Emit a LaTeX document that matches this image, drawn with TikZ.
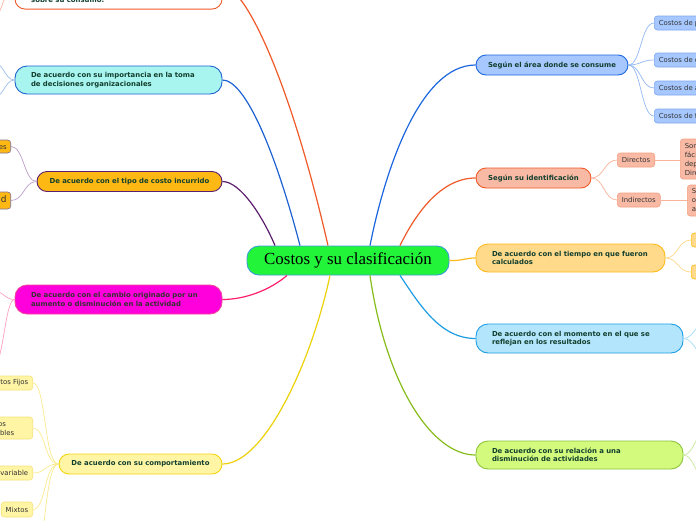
\documentclass[tikz,border=0pt]{standalone}
\usepackage{fontspec}
\newfontfamily\djv{DejaVu Sans}
\newfontfamily\lser{Liberation Serif}
\definecolor{corange}{HTML}{F05A28}
\definecolor{brtxt}{HTML}{123F2E}
\definecolor{chtxt}{HTML}{333333}
\definecolor{cgreen}{HTML}{22F43A}
\definecolor{cblue}{HTML}{3D9BD6}
\definecolor{ntwofill}{HTML}{A8F4EE}
\definecolor{ntwodraw}{HTML}{1E63D2}
\definecolor{nthrfill}{HTML}{FDB813}
\definecolor{nthrdraw}{HTML}{5C1E6E}
\definecolor{nthrline}{HTML}{BC9FCB}
\definecolor{nfourfill}{HTML}{FF00DC}
\definecolor{nfourdraw}{HTML}{F2459A}
\definecolor{nfourconn}{HTML}{FF1F6E}
\definecolor{nfourline}{HTML}{FFA0BE}
\definecolor{nfivefill}{HTML}{FFF5A5}
\definecolor{nfivedraw}{HTML}{F2D50F}
\definecolor{nfiveconn}{HTML}{EDD10A}
\definecolor{nfiveline}{HTML}{FBEB8E}
\definecolor{nfivechdraw}{HTML}{F5E27A}
\definecolor{ronefill}{HTML}{A6C8FF}
\definecolor{ronedraw}{HTML}{1C66DE}
\definecolor{roneline}{HTML}{94B8F5}
\definecolor{ronechdraw}{HTML}{7FA6EE}
\definecolor{rtwofill}{HTML}{F9BAA5}
\definecolor{rtwoline}{HTML}{F9B39B}
\definecolor{rtwochdraw}{HTML}{F5A081}
\definecolor{rthrfill}{HTML}{FFDA8B}
\definecolor{rthrdraw}{HTML}{FDBA1A}
\definecolor{rthrline}{HTML}{FDD98A}
\definecolor{rfourfill}{HTML}{B3E5FC}
\definecolor{rfourdraw}{HTML}{1E9DE3}
\definecolor{rfourline}{HTML}{A5DCF7}
\definecolor{rfivefill}{HTML}{D3FA7D}
\definecolor{rfivedraw}{HTML}{8CC43A}
\definecolor{rfiveconn}{HTML}{86BD1A}
\definecolor{rfiveline}{HTML}{C8E89A}
\definecolor{ntwoline}{HTML}{9FC0F0}
\definecolor{noneline}{HTML}{F8B8A0}
\tikzset{
  br/.style={draw, line width=0.9pt, rounded corners=10pt,
    font=\djv\bfseries\fontsize{6.9}{8.5}\selectfont, text=brtxt,
    inner ysep=0pt},
  brone/.style={br, inner xsep=5pt, align=center, minimum height=20pt},
  brtwo/.style={br, inner xsep=16pt, align=left, rounded corners=12pt},
  ch/.style={draw, line width=0.6pt, rounded corners=3pt,
    font=\djv\fontsize{6.9}{9}\selectfont, text=chtxt,
    inner xsep=4.5pt, inner ysep=0pt, minimum height=14pt},
  conn/.style={line width=1.2pt},
  sub/.style={line width=0.7pt}
}
\begin{document}
\begin{tikzpicture}[x=1pt,y=-1pt]
\useasboundingbox (0,0) rectangle (696,520);
\clip (0,0) rectangle (696,520);
\fill[white] (0,0) rectangle (696,520);

% central
\node[draw=cblue, fill=cgreen, line width=0.9pt, rounded corners=12pt,
  minimum width=202pt, minimum height=29pt, inner sep=0pt,
  font=\lser\fontsize{16.9}{20}\selectfont] (c) at (348,260.5) {Costos y su clasificación};

% left branches
\node[br, draw=corange, fill=white, minimum width=207pt, minimum height=47pt, anchor=south, inner sep=0pt] (n1) at (118.5,9.5) {};
\node[font=\djv\bfseries\fontsize{6.9}{8.5}\selectfont, text=brtxt, anchor=base west, inner sep=0pt] (n1t) at (31,2.5) {sobre su consumo.};

\node[brtwo, fill=ntwofill, draw=ntwodraw, text width=175pt, minimum height=28pt] (n2) at (118.5,80)
  {\mbox{De acuerdo con su importancia en la toma}\\\mbox{de decisiones organizacionales}};

\node[brone, fill=nthrfill, draw=nthrdraw, text width=175pt] (n3) at (129.5,181.5)
  {De acuerdo con el tipo de costo incurrido};

\node[brtwo, fill=nfourfill, draw=nfourdraw, text width=175pt, minimum height=29pt, text=chtxt] (n4) at (118.5,299.5)
  {\mbox{De acuerdo con el cambio originado por un}\\\mbox{aumento o disminución en la actividad}};

\node[brone, fill=nfivefill, draw=nfivedraw, text width=153pt] (n5) at (140.5,464)
  {De acuerdo con su comportamiento};

% right branches
\node[brone, fill=ronefill, draw=ronedraw, text width=142pt] (r1) at (552,65)
  {Según el área donde se consume};
\node[brone, fill=rtwofill, draw=corange, text width=105pt] (r2) at (533.5,178)
  {Según su identificación};
\node[brtwo, fill=rthrfill, draw=rthrdraw, text width=157pt, minimum height=28pt] (r3) at (570.5,258)
  {\mbox{De acuerdo con el tiempo en que fueron}\\\mbox{calculados}};
\node[brtwo, fill=rfourfill, draw=rfourdraw, text width=175pt, minimum height=29pt] (r4) at (579.5,338.5)
  {\mbox{De acuerdo con el momento en el que se}\\\mbox{reflejan en los resultados}};
\node[brtwo, fill=rfivefill, draw=rfivedraw, text width=175pt, minimum height=28pt] (r5) at (579.5,455)
  {\mbox{De acuerdo con su relación a una}\\\mbox{disminución de actividades}};

% main connectors
\draw[conn, corange] ([xshift=-20pt]c.north) .. controls (290,80) and (245,-14) .. (n1.east);
\draw[conn, ntwodraw] ([xshift=-48pt]c.north) .. controls (275,150) and (245,80) .. (n2.east);
\draw[conn, nthrdraw] ([xshift=-73pt]c.north) .. controls (262,215) and (240,181.5) .. (n3.east);
\draw[conn, nfourconn] ([xshift=-61pt]c.south) .. controls (270,290) and (245,299.5) .. (n4.east);
\draw[conn, nfiveconn] ([xshift=-18pt]c.south) .. controls (312,360) and (265,464) .. (n5.east);
\draw[conn, ronedraw] ([xshift=22pt]c.north) .. controls (385,170) and (420,65) .. (r1.west);
\draw[conn, corange] ([xshift=52pt]c.north) .. controls (415,215) and (440,178) .. (r2.west);
\draw[conn, rthrdraw] (c.east) .. controls (462,261) and (465,258) .. (r3.west);
\draw[conn, rfourdraw] ([xshift=52pt]c.south) .. controls (420,305) and (440,338.5) .. (r4.west);
\draw[conn, rfiveconn] ([xshift=22pt]c.south) .. controls (385,380) and (430,455) .. (r5.west);

% R1 children
\foreach \nm/\yy/\tx in {r1a/23/Costos de producción, r1b/60/Costos de distribución, r1c/88/Costos de administración, r1d/116/Costos de financiamiento}{
  \node[ch, fill=ronefill, draw=ronechdraw, anchor=west] (\nm) at (654,\yy) {\tx};
  \draw[sub, roneline] (r1.east) .. controls (641,65) and (641,\yy) .. (\nm.west);
}

% R2 children
\node[ch, fill=rtwofill, draw=rtwochdraw, anchor=west] (dir) at (617,160) {Directos};
\node[ch, fill=rtwofill, draw=rtwochdraw, anchor=west] (ind) at (617,200) {Indirectos};
\node[ch, fill=rtwofill, draw=rtwochdraw, anchor=west, minimum height=40pt, align=left, text width=140pt] (gca) at (680,159)
  {Son los que se identifican\\fácilmente con un producto o\\departamento en forma\\Directa};
\node[ch, fill=rtwofill, draw=rtwochdraw, anchor=west, minimum height=31pt, align=left, text width=140pt] (gcb) at (687,200.5)
  {Son los que no se pueden\\obtener de forma exacta\\a un producto};
\draw[sub, rtwoline] (r2.east) .. controls (604,178) and (604,160) .. (dir.west);
\draw[sub, rtwoline] (r2.east) .. controls (604,178) and (604,200) .. (ind.west);
\draw[sub, rtwoline] (dir.east) -- (gca.west |- dir.east);
\draw[sub, rtwoline] (ind.east) -- (gcb.west |- ind.east);

% R3 children
\node[ch, fill=rthrfill, draw=rthrdraw, anchor=west, minimum width=30pt] (r3a) at (691,240) {};
\node[ch, fill=rthrfill, draw=rthrdraw, anchor=west, minimum width=30pt] (r3b) at (691,272) {};
\draw[sub, rthrline] (r3.east) .. controls (678,258) and (678,240) .. (r3a.west);
\draw[sub, rthrline] (r3.east) .. controls (678,258) and (678,272) .. (r3b.west);

% R4, R5 children (off picture)
\coordinate (r4a) at (712,318);
\coordinate (r4b) at (712,360);
\draw[sub, rfourline] (r4.east) .. controls (695,338.5) and (697,318) .. (r4a);
\draw[sub, rfourline] (r4.east) .. controls (695,338.5) and (697,360) .. (r4b);
\coordinate (r5a) at (712,425);
\coordinate (r5b) at (712,485);
\draw[sub, rfiveline] (r5.east) .. controls (695,455) and (697,425) .. (r5a);
\draw[sub, rfiveline] (r5.east) .. controls (695,455) and (697,485) .. (r5b);

% n1 child (off picture)
\coordinate (n1a) at (-12,22);
\draw[sub, noneline] (n1.west) .. controls (3,-14) and (3,22) .. (n1a);

% n2 children (off picture)
\coordinate (n2a) at (-12,60);
\coordinate (n2b) at (-12,100);
\draw[sub, ntwoline] (n2.west) .. controls (4,80) and (4,60) .. (n2a);
\draw[sub, ntwoline] (n2.west) .. controls (4,80) and (4,100) .. (n2b);

% n3 children
\node[ch, fill=nthrfill, draw=nthrline!70!black, anchor=east, minimum height=13pt, inner xsep=4pt] (n3a) at (11,146.5) {Costos desembolsables};
\node[ch, fill=nthrfill, draw=nthrline!70!black, anchor=east, minimum height=17pt, inner xsep=4pt, font=\djv\fontsize{9}{11}\selectfont] (n3b) at (11,200.5) {Costo de oportunidad};
\draw[sub, nthrline] (n3.west) .. controls (24,181.5) and (24,146.5) .. (n3a.east);
\draw[sub, nthrline] (n3.west) .. controls (24,181.5) and (24,200.5) .. (n3b.east);

% n4 children (off picture)
\coordinate (n4a) at (-12,290);
\coordinate (n4b) at (-12,375);
\draw[sub, nfourline] (n4.west) .. controls (4,299.5) and (4,290) .. (n4a);
\draw[sub, nfourline] (n4.west) .. controls (4,299.5) and (4,375) .. (n4b);

% n5 children
\node[ch, fill=nfivefill, draw=nfivechdraw, anchor=east] (n5a) at (33,383) {Costos Fijos};
\node[ch, fill=nfivefill, draw=nfivechdraw, anchor=east, minimum height=22pt, align=left, text width=45pt, inner xsep=5pt] (n5b) at (33,428) {Costos\\Variables};
\node[ch, fill=nfivefill, draw=nfivechdraw, anchor=east] (n5c) at (33,473) {Costos Semi-variable};
\node[ch, fill=nfivefill, draw=nfivechdraw, anchor=east, minimum height=15pt] (n5d) at (33,509.5) {Mixtos};
\coordinate (n5e) at (33,560);
\foreach \nm/\yy in {n5a/383, n5b/428, n5c/473, n5d/509.5}{
  \draw[sub, nfiveline] (n5.west) .. controls (44,464) and (46,\yy) .. (\nm.east);
}
\draw[sub, nfiveline] (n5.west) .. controls (44,464) and (46,560) .. (n5e);
\end{tikzpicture}
\end{document}
